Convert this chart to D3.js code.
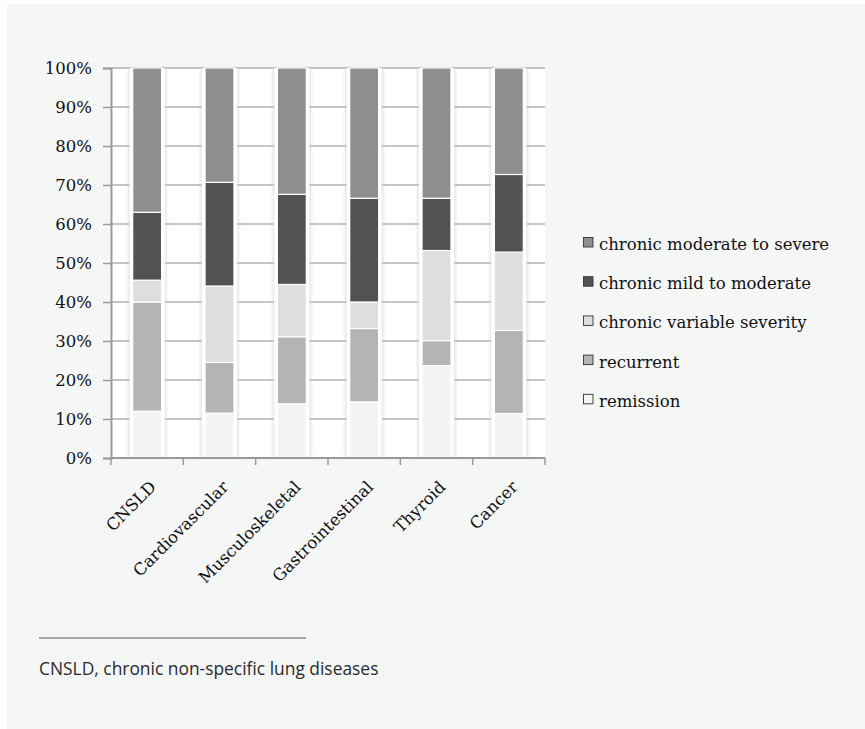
<!DOCTYPE html>
<html>
<head>
<meta charset="utf-8">
<script src="https://cdn.jsdelivr.net/npm/d3@7"></script>
<style>
  html, body { margin: 0; padding: 0; background: #ffffff; }
  svg { display: block; }
</style>
</head>
<body>
<svg id="chart" width="865" height="729"></svg>
<script>
// Disease groups along the x axis
const categories = ["CNSLD", "Cardiovascular", "Musculoskeletal", "Gastrointestinal", "Thyroid", "Cancer"];

// Course categories, stacked bottom to top (percent of patients)
const seriesNames = ["remission", "recurrent", "chronic variable severity", "chronic mild to moderate", "chronic moderate to severe"];
const remission      = [12.0, 11.5, 13.9, 14.4, 23.7, 11.4];
const recurrent      = [28.0, 13.0, 17.2, 18.8,  6.4, 21.3];
const variableSev    = [ 5.6, 19.6, 13.4,  6.8, 23.1, 20.1];
const mildModerate   = [17.4, 26.6, 23.1, 26.6, 13.4, 19.9];
const moderateSevere = [37.0, 29.3, 32.4, 33.4, 33.4, 27.3];

const yTicks = [0, 10, 20, 30, 40, 50, 60, 70, 80, 90, 100];
const footnote = "CNSLD, chronic non-specific lung diseases";

const seriesColors = {
  "remission": "#f4f4f4",
  "recurrent": "#b3b5b4",
  "chronic variable severity": "#dedede",
  "chronic mild to moderate": "#525252",
  "chronic moderate to severe": "#8f8f8f"
};

const rows = categories.map((c, i) => ({
  category: c,
  "remission": remission[i],
  "recurrent": recurrent[i],
  "chronic variable severity": variableSev[i],
  "chronic mild to moderate": mildModerate[i],
  "chronic moderate to severe": moderateSevere[i]
}));

const serif = "'DejaVu Serif', serif";
const labelSize = 16.5;
const ink = "#111111";

const svg = d3.select("#chart");

// page panel
svg.append("rect").attr("x", 7).attr("y", 4).attr("width", 858).attr("height", 725).attr("fill", "#f4f6f6");
svg.append("rect").attr("x", 35).attr("y", 20).attr("width", 808).attr("height", 573).attr("fill", "#f5f6f6");

const plot = { left: 111, top: 68, width: 434, height: 390 };

const x = d3.scaleBand().domain(categories).range([plot.left, plot.left + plot.width]).paddingInner(0).paddingOuter(0);
const y = d3.scaleLinear().domain([0, 100]).range([plot.top + plot.height, plot.top]);

const defs = svg.append("defs");
const blur = defs.append("filter").attr("id", "soft").attr("x", "-50%").attr("y", "-10%").attr("width", "200%").attr("height", "120%");
blur.append("feGaussianBlur").attr("stdDeviation", 1.8);

// plot background
svg.append("rect")
  .attr("x", plot.left).attr("y", plot.top)
  .attr("width", plot.width).attr("height", plot.height)
  .attr("fill", "#ffffff");

// horizontal gridlines
svg.append("g")
  .selectAll("line")
  .data(yTicks.filter(t => t > 0))
  .join("line")
  .attr("x1", plot.left).attr("x2", plot.left + plot.width)
  .attr("y1", d => y(d)).attr("y2", d => y(d))
  .attr("stroke", "#8c8c8c").attr("stroke-width", 1.2);

const barW = x.bandwidth() * 0.4;
const stack = d3.stack().keys(seriesNames)(rows);

// soft shadow and white gap round each bar
const halo = svg.append("g");
halo.selectAll("rect.shadow")
  .data(categories)
  .join("rect")
  .attr("class", "shadow")
  .attr("x", d => x(d) + x.bandwidth() / 2 - barW / 2 - 5)
  .attr("y", y(100))
  .attr("width", barW + 10)
  .attr("height", y(0) - y(100))
  .attr("fill", "#cfcfcf")
  .attr("opacity", 0.5)
  .attr("filter", "url(#soft)");
halo.selectAll("rect.gap")
  .data(categories)
  .join("rect")
  .attr("class", "gap")
  .attr("x", d => x(d) + x.bandwidth() / 2 - barW / 2 - 3)
  .attr("y", y(100))
  .attr("width", barW + 6)
  .attr("height", y(0) - y(100))
  .attr("fill", "#ffffff");

// stacked bars
svg.append("g")
  .selectAll("g")
  .data(stack)
  .join("g")
  .attr("fill", d => seriesColors[d.key])
  .selectAll("rect")
  .data(d => d)
  .join("rect")
  .attr("x", d => x(d.data.category) + x.bandwidth() / 2 - barW / 2)
  .attr("y", d => y(d[1]))
  .attr("width", barW)
  .attr("height", d => y(d[0]) - y(d[1]))
  .attr("stroke", "#ffffff")
  .attr("stroke-width", 1.2);

// y axis
const yAxis = svg.append("g")
  .attr("transform", `translate(${plot.left},0)`)
  .call(d3.axisLeft(y).tickValues(yTicks).tickFormat(d => d + "%").tickSize(8).tickPadding(11));
yAxis.select(".domain").attr("stroke", "#999").attr("stroke-width", 2);
yAxis.selectAll(".tick line").attr("stroke", "#999").attr("stroke-width", 1.5);
yAxis.selectAll(".tick text")
  .attr("font-family", serif)
  .attr("font-size", labelSize)
  .attr("fill", ink);

// x axis with ticks at band boundaries
const xAxisG = svg.append("g").attr("transform", `translate(0,${y(0)})`);
xAxisG.append("line")
  .attr("x1", plot.left).attr("x2", plot.left + plot.width)
  .attr("stroke", "#999").attr("stroke-width", 2);
const bounds = categories.map(c => x(c)).concat([plot.left + plot.width]);
xAxisG.selectAll("line.tk")
  .data(bounds)
  .join("line")
  .attr("class", "tk")
  .attr("x1", d => d).attr("x2", d => d)
  .attr("y1", 0).attr("y2", 7)
  .attr("stroke", "#999").attr("stroke-width", 1.5);
xAxisG.selectAll("text")
  .data(categories)
  .join("text")
  .attr("transform", d => `translate(${x(d) + x.bandwidth() / 2 + 10},${30}) rotate(-45)`)
  .attr("text-anchor", "end")
  .attr("font-family", serif)
  .attr("font-size", labelSize)
  .attr("fill", ink)
  .text(d => d);

// legend, top entry is the top stack segment
const legendItems = seriesNames.slice().reverse();
const legend = svg.append("g").attr("transform", "translate(583,237)");
const li = legend.selectAll("g")
  .data(legendItems)
  .join("g")
  .attr("transform", (d, i) => `translate(0,${i * 39.2})`);
li.append("rect")
  .attr("x", 0.5).attr("y", 0.5)
  .attr("width", 9.5).attr("height", 9.5)
  .attr("fill", d => seriesColors[d])
  .attr("stroke", "#333").attr("stroke-width", 0.9);
li.append("text")
  .attr("x", 16).attr("y", 13)
  .attr("font-family", serif)
  .attr("font-size", labelSize)
  .attr("fill", ink)
  .text(d => d);

// footnote
svg.append("line")
  .attr("x1", 39).attr("x2", 306)
  .attr("y1", 638).attr("y2", 638)
  .attr("stroke", "#8a8a8a").attr("stroke-width", 1.5);
svg.append("text")
  .attr("x", 39).attr("y", 675)
  .attr("font-family", "'Open Sans', sans-serif")
  .attr("font-size", 17.4)
  .attr("fill", "#2a2a2a")
  .text(footnote);
</script>
</body>
</html>
